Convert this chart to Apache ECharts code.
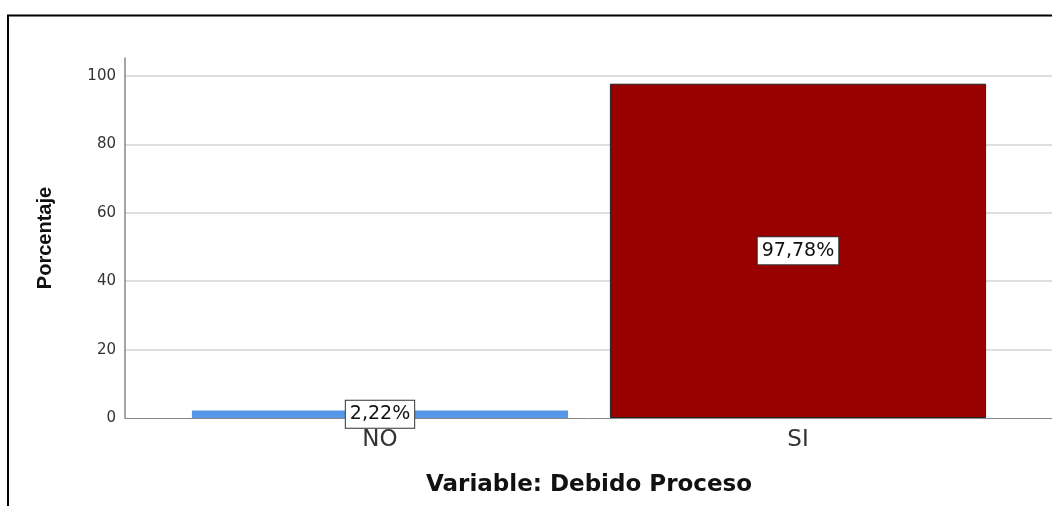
<!DOCTYPE html>
<html>
<head>
<meta charset="utf-8">
<script src="https://cdn.jsdelivr.net/npm/echarts@6/dist/echarts.min.js"></script>
<style>
html,body{margin:0;padding:0;background:#fff;}
#c{width:1052px;height:506px;}
</style>
</head>
<body>
<div id="c"></div>
<script>
const categories = ['NO', 'SI'];
const values = [2.22, 97.78];
const labels = ['2,22%', '97,78%'];
const barColors = ['#5596e6', '#990000'];
const yTicks = [0, 20, 40, 60, 80, 100];

const chart = echarts.init(document.getElementById('c'));
const wide = 'DejaVu Sans, Verdana, sans-serif';
const arial = 'Liberation Sans, Arial, sans-serif';
const yMax = 105.3;

chart.setOption({
  animation: false,
  backgroundColor: '#fff',
  graphic: [{
    type: 'polyline',
    shape: { points: [[8, 506], [8, 15.5], [1052, 15.5]] },
    style: { stroke: '#000', lineWidth: 2, fill: null }
  }],
  grid: [
    { left: 125, right: 0, top: 58, bottom: 88 },
    { left: 171, right: 45, top: 58, bottom: 88 }
  ],
  xAxis: [
    {
      gridIndex: 0, type: 'value', min: 0, max: 1,
      axisLine: { show: true, lineStyle: { color: '#888', width: 1 } },
      axisTick: { show: false }, axisLabel: { show: false }, splitLine: { show: false }
    },
    {
      gridIndex: 1, type: 'category', data: categories,
      axisLine: { show: false }, axisTick: { show: false },
      axisLabel: { color: '#333', fontSize: 23, fontFamily: wide, margin: 11 },
      name: 'Variable: Debido Proceso', nameLocation: 'middle', nameGap: 56,
      nameTextStyle: { color: '#111', fontSize: 23, fontWeight: 'bold', fontFamily: wide }
    }
  ],
  yAxis: [
    {
      gridIndex: 0, type: 'value', min: 0, max: yMax, interval: 20,
      axisLine: { show: true, lineStyle: { color: '#888', width: 1.5 } },
      axisTick: { show: false },
      axisLabel: {
        color: '#333', fontSize: 15, fontFamily: wide, margin: 9, showMaxLabel: false,
        formatter: v => (yTicks.indexOf(v) >= 0 ? String(v) : '')
      },
      splitLine: { show: true, showMinLine: false, showMaxLine: false, lineStyle: { color: '#d4d4d4', width: 1.5 } },
      name: 'Porcentaje', nameLocation: 'middle', nameGap: 70, nameRotate: 90,
      nameTextStyle: { color: '#111', fontSize: 20, fontWeight: 'bold', fontFamily: arial }
    },
    {
      gridIndex: 1, type: 'value', min: 0, max: yMax, show: false
    }
  ],
  series: [{
    type: 'bar',
    xAxisIndex: 1, yAxisIndex: 1,
    barWidth: '90%',
    data: values.map((v, i) => ({
      value: v,
      itemStyle: {
        color: barColors[i],
        borderColor: i === 1 ? '#222' : barColors[i],
        borderWidth: i === 1 ? 1 : 0
      }
    })),
    label: {
      show: true, position: 'inside',
      formatter: p => labels[p.dataIndex],
      color: '#111', fontSize: 19, fontFamily: wide, lineHeight: 20,
      backgroundColor: '#fff', borderColor: '#333', borderWidth: 1,
      padding: [5, 4, 2, 4]
    }
  }]
});
</script>
</body>
</html>
